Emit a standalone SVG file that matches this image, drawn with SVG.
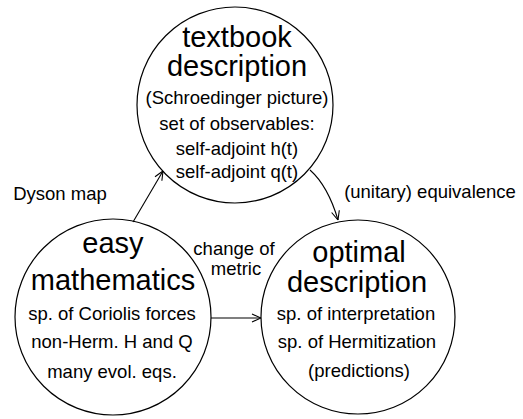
<svg xmlns="http://www.w3.org/2000/svg" width="523" height="419" viewBox="0 0 523 419">
<style>
circle{fill:#fff;stroke:#000;stroke-width:1.2}
text{font-family:"Liberation Sans",Arial,sans-serif;fill:#000;text-anchor:middle}
.big{font-size:29px}
.sm{font-size:18.5px}
.conn path,.conn line{fill:none;stroke:#000;stroke-width:1.1}
</style>
<defs>
<marker id="ah" viewBox="0 0 10 10" refX="10" refY="5" markerWidth="10" markerHeight="10" markerUnits="userSpaceOnUse" orient="auto">
<path d="M1,1 L10,5 L1,9" fill="none" stroke="#000" stroke-width="1.1"/>
</marker>
</defs>
<rect width="523" height="419" fill="#fff"/>
<g id="textbook" class="node">
<circle cx="235" cy="105" r="98"/>
<text class="big" x="237" y="47">textbook</text>
<text class="big" x="237" y="76">description</text>
<text class="sm" x="237" y="104">(Schroedinger picture)</text>
<text class="sm" x="237" y="130">set of observables:</text>
<text class="sm" x="237" y="155">self-adjoint h(t)</text>
<text class="sm" x="237" y="178">self-adjoint q(t)</text>
</g>
<g id="easy" class="node">
<circle cx="113" cy="317" r="98"/>
<text class="big" x="113" y="253">easy</text>
<text class="big" x="113" y="290">mathematics</text>
<text class="sm" x="112" y="320">sp. of Coriolis forces</text>
<text class="sm" x="112" y="348">non-Herm. H and Q</text>
<text class="sm" x="112" y="378">many evol. eqs.</text>
</g>
<g id="optimal" class="node">
<circle cx="358" cy="317" r="97"/>
<text class="big" x="359" y="262">optimal</text>
<text class="big" x="357" y="292">description</text>
<text class="sm" x="356" y="320">sp. of interpretation</text>
<text class="sm" x="357" y="348">sp. of Hermitization</text>
<text class="sm" x="359" y="377">(predictions)</text>
</g>
<g class="conn" id="connectors">
<line x1="133" y1="222" x2="163" y2="171" marker-end="url(#ah)"/>
<path d="M310,170 Q328,186 338,220" marker-end="url(#ah)"/>
<line x1="211" y1="318" x2="261" y2="318" marker-end="url(#ah)"/>
<text class="sm" x="60" y="200">Dyson map</text>
<text class="sm" x="430" y="198">(unitary) equivalence</text>
<text class="sm" x="234" y="255">change of</text>
<text class="sm" x="236" y="275">metric</text>
</g>
</svg>
